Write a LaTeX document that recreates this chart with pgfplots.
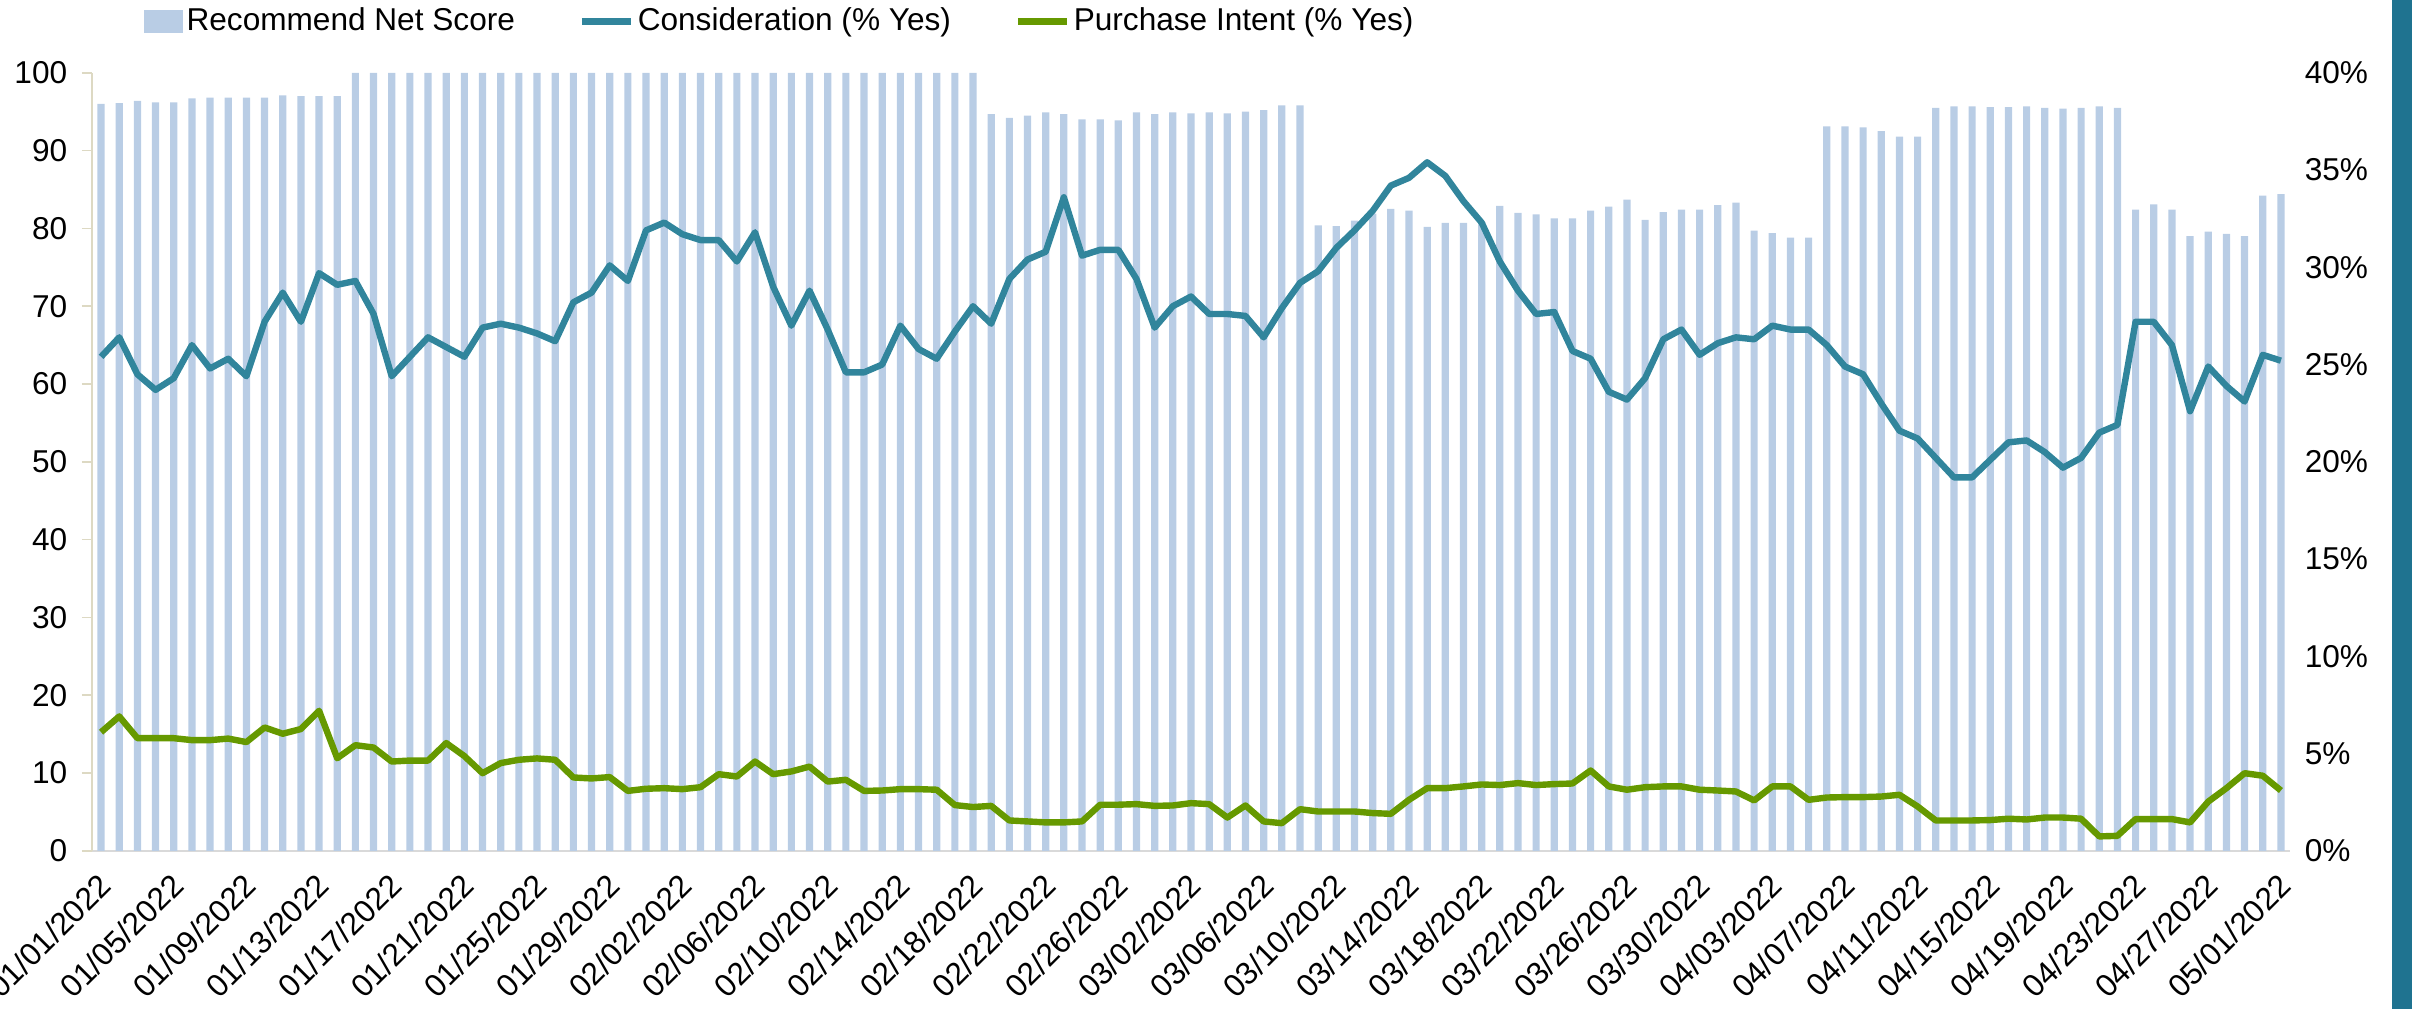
\documentclass[border=0pt]{standalone}
\usepackage{fontspec}
\setmainfont{Liberation Sans}
\usepackage{pgfplots}
\usepackage{pgfplotstable}
\pgfplotsset{compat=1.18}

\definecolor{barblue}{HTML}{B9CDE5}
\definecolor{consteal}{HTML}{31859C}
\definecolor{pigreen}{HTML}{669900}
\definecolor{axtan}{HTML}{DDD9C3}
\definecolor{axgray}{HTML}{D9D9D9}
\definecolor{stripteal}{HTML}{1F7390}

% day index, recommend net score, consideration (%), purchase intent (%)
\pgfplotstableread{
x rns cons pi
0 96.0 25.4 6.10
1 96.1 26.4 6.91
2 96.4 24.5 5.79
3 96.2 23.7 5.79
4 96.2 24.3 5.79
5 96.7 26.0 5.69
6 96.8 24.8 5.69
7 96.8 25.3 5.77
8 96.8 24.4 5.59
9 96.8 27.2 6.34
10 97.1 28.7 6.02
11 97.0 27.2 6.26
12 97.0 29.7 7.20
13 97.0 29.1 4.76
14 100 29.3 5.43
15 100 27.6 5.31
16 100 24.4 4.59
17 100 25.4 4.64
18 100 26.4 4.64
19 100 25.9 5.54
20 100 25.4 4.87
21 100 26.9 3.99
22 100 27.1 4.51
23 100 26.9 4.68
24 100 26.6 4.75
25 100 26.2 4.68
26 100 28.2 3.77
27 100 28.7 3.72
28 100 30.1 3.79
29 100 29.3 3.08
30 100 31.9 3.19
31 100 32.3 3.22
32 100 31.7 3.17
33 100 31.4 3.27
34 100 31.4 3.94
35 100 30.3 3.82
36 100 31.8 4.59
37 100 29.0 3.94
38 100 27.0 4.08
39 100 28.8 4.33
40 100 26.8 3.56
41 100 24.6 3.65
42 100 24.6 3.08
43 100 25.0 3.10
44 100 27.0 3.17
45 100 25.8 3.17
46 100 25.3 3.14
47 100 26.7 2.35
48 100 28.0 2.25
49 94.7 27.1 2.31
50 94.2 29.4 1.56
51 94.5 30.4 1.51
52 94.9 30.8 1.46
53 94.7 33.6 1.46
54 94.0 30.6 1.51
55 94.0 30.9 2.37
56 93.9 30.9 2.37
57 94.9 29.4 2.40
58 94.7 26.9 2.31
59 94.9 28.0 2.33
60 94.8 28.5 2.45
61 94.9 27.6 2.40
62 94.8 27.6 1.71
63 95.0 27.5 2.33
64 95.2 26.4 1.51
65 95.8 27.9 1.42
66 95.8 29.2 2.14
67 80.4 29.8 2.02
68 80.3 31.0 2.02
69 81.0 31.9 2.02
70 81.9 32.9 1.94
71 82.5 34.2 1.90
72 82.3 34.6 2.62
73 80.2 35.4 3.22
74 80.7 34.7 3.22
75 80.7 33.4 3.31
76 80.8 32.3 3.41
77 82.9 30.3 3.38
78 82.0 28.8 3.48
79 81.8 27.6 3.38
80 81.3 27.7 3.43
81 81.3 25.7 3.46
82 82.3 25.3 4.13
83 82.8 23.6 3.31
84 83.7 23.2 3.14
85 81.1 24.3 3.27
86 82.1 26.3 3.31
87 82.4 26.8 3.31
88 82.4 25.5 3.14
89 83.0 26.1 3.10
90 83.3 26.4 3.05
91 79.7 26.3 2.59
92 79.4 27.0 3.31
93 78.8 26.8 3.31
94 78.8 26.8 2.62
95 93.1 26.0 2.74
96 93.1 24.9 2.76
97 93.0 24.5 2.76
98 92.5 23.0 2.79
99 91.8 21.6 2.88
100 91.8 21.2 2.28
101 95.5 20.2 1.56
102 95.7 19.2 1.56
103 95.7 19.2 1.56
104 95.6 20.1 1.58
105 95.6 21.0 1.65
106 95.7 21.1 1.61
107 95.5 20.5 1.71
108 95.4 19.7 1.71
109 95.5 20.2 1.65
110 95.7 21.5 0.74
111 95.5 21.9 0.77
112 82.4 27.2 1.63
113 83.1 27.2 1.63
114 82.4 26.0 1.63
115 79.0 22.6 1.46
116 79.6 24.9 2.53
117 79.3 23.9 3.22
118 79.0 23.1 3.99
119 84.2 25.5 3.86
120 84.4 25.2 3.10
}\datatable

\begin{document}
\begin{tikzpicture}
\fontsize{7.9}{9.5}\selectfont
% page frame: 2412x1009 px at 0.25pt per px, plot area starts at (92,851)
\path[use as bounding box] (-23pt,-39.5pt) rectangle (580pt,212.7pt);
\fill[stripteal] (575pt,-39.5pt) rectangle (580pt,212.7pt);

\pgfplotsset{
  base/.style={
    at={(0pt,0pt)}, anchor=south west,
    scale only axis, width=549.5pt, height=194.5pt,
    xmin=-0.5, xmax=120.5,
    /pgf/number format/assume math mode=true,
    ticklabel style={font=\fontsize{7.9}{9.5}\selectfont},
  },
}

\begin{axis}[
  base,
  ymin=0, ymax=100,
  ytick={0,10,...,100},
  axis x line*=bottom, axis y line*=left,
  x axis line style={draw=axgray, line width=0.4pt, -},
  y axis line style={draw=axtan, line width=0.4pt, -},
  ytick style={draw=axtan, line width=0.4pt},
  tick align=outside, major tick length=2.5pt,
  xtick={0,4,...,120},
  xtick style={draw=none},
  xticklabels={01/01/2022,01/05/2022,01/09/2022,01/13/2022,01/17/2022,01/21/2022,01/25/2022,01/29/2022,02/02/2022,02/06/2022,02/10/2022,02/14/2022,02/18/2022,02/22/2022,02/26/2022,03/02/2022,03/06/2022,03/10/2022,03/14/2022,03/18/2022,03/22/2022,03/26/2022,03/30/2022,04/03/2022,04/07/2022,04/11/2022,04/15/2022,04/19/2022,04/23/2022,04/27/2022,05/01/2022},
  xticklabel style={rotate=45, anchor=north east, inner sep=1pt, xshift=-1.5pt},
  yticklabel style={inner sep=1pt, xshift=-2.5pt},
]
\addplot[ybar, bar width=1.8pt, fill=barblue, draw=none] table[x=x, y=rns] {\datatable};
\end{axis}

\begin{axis}[
  base,
  ymin=0, ymax=40,
  ytick={0,5,...,40},
  yticklabel={\pgfmathprintnumber{\tick}\%},
  axis y line*=right, axis x line=none,
  y axis line style={draw=none},
  ytick style={draw=none},
  yticklabel style={inner sep=1pt, xshift=2.5pt},
  legend columns=3,
  legend style={
    at={(0.018,1.066)}, anchor=west,
    draw=none, fill=none,
    font=\fontsize{7.9}{9.5}\selectfont,
    nodes={inner sep=0.9pt},
    /tikz/every even column/.append style={column sep=15pt},
  },
  legend image code/.code={\draw[#1] (0pt,0pt) -- (12.3pt,0pt);},
]
\addlegendimage{legend image code/.code={\fill[barblue] (0pt,-2.7pt) rectangle (9.25pt,2.7pt);}}
\addlegendentry{Recommend Net Score}
\addplot[consteal, line width=1.6pt, line join=round, mark=none] table[x=x, y=cons] {\datatable};
\addlegendentry{Consideration (\% Yes)}
\addplot[pigreen, line width=1.6pt, line join=round, mark=none] table[x=x, y=pi] {\datatable};
\addlegendentry{Purchase Intent (\% Yes)}
\end{axis}
\end{tikzpicture}
\end{document}
